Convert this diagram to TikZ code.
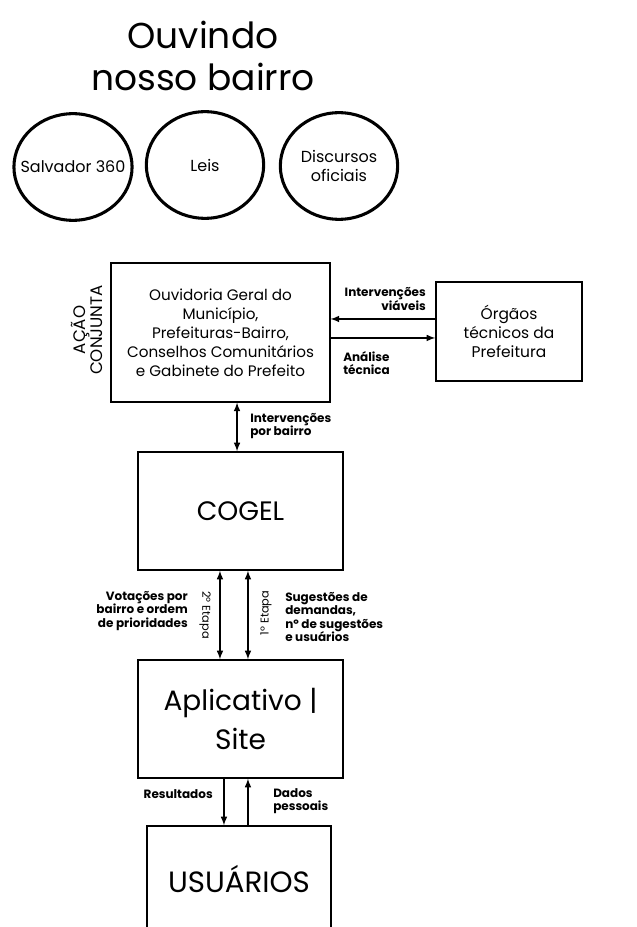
\documentclass[tikz,border=0pt]{standalone}
\usepackage{fontspec}
\setmainfont{Poppins}
\usetikzlibrary{arrows,positioning,shapes.geometric}
\tikzstyle{caixa}=[draw,rectangle,line width=1.1pt,align=center,inner sep=0pt]
\tikzstyle{bola}=[draw,ellipse,line width=2.3pt,minimum width=88pt,minimum height=80pt,align=center,inner xsep=-8pt,inner ysep=0pt,font=\fontsize{12}{14}\selectfont]
\tikzstyle{rotulo}=[font=\fontsize{9}{10}\selectfont\bfseries,inner sep=0pt]
\tikzstyle{etapa}=[font=\fontsize{8.5}{9}\selectfont,inner sep=0pt]
\begin{document}
\begin{tikzpicture}
  [x=0.75pt,y=-0.75pt,>=latex]
\useasboundingbox (0,0) rectangle (636,927);
\clip (0,0) rectangle (636,927);
\node[align=center,font=\fontsize{27}{32}\selectfont] (titulo) at (203,56) {Ouvindo\\nosso bairro};
\node[bola] (s360) at (73,167) {Salvador 360};
\node[bola] (leis) at (205,165) {Leis};
\node[bola] (disc) at (339,166) {Discursos\\oficiais};
\node[caixa,minimum width=164pt,minimum height=104pt,font=\fontsize{11.4}{14.3}\selectfont] (ouv) at (220.5,332.5)
  {Ouvidoria Geral do\\Município,\\Prefeituras-Bairro,\\Conselhos Comunitários\\e Gabinete do Prefeito};
\node[rotate=90,align=center,font=\fontsize{12.5}{12.5}\selectfont,inner sep=0pt] (acao) at (87,330) {AÇÃO\\CONJUNTA};
\node[caixa,minimum width=109.5pt,minimum height=74pt,font=\fontsize{11.6}{14.3}\selectfont] (orgaos) at (509,331.5)
  {Órgãos\\técnicos da\\Prefeitura};
\node[caixa,minimum width=154pt,minimum height=88.5pt,font=\fontsize{20}{24}\selectfont] (cogel) at (240.5,511) {COGEL};
\node[caixa,minimum width=154pt,minimum height=88.5pt,font=\fontsize{21}{29}\selectfont] (app) at (240.5,719) {Aplicativo |\\Site};
\node[caixa,minimum width=138pt,minimum height=79.5pt,font=\fontsize{22}{24}\selectfont] (usu) at (239,879) {USUÁRIOS};
% rotulos das setas
\node[rotulo,anchor=east,align=right] (viaveis) at (426,299) {Intervenções\\viáveis};
\node[rotulo,anchor=west,align=left] (analise) at (343,363) {Análise\\técnica};
\node[rotulo,anchor=west,align=left] (porbairro) at (250,426) {Intervenções\\por bairro};
\node[rotulo,anchor=east,align=right] (votacoes) at (188,611) {Votações por\\bairro e ordem\\de prioridades};
\node[rotulo,anchor=west,align=left] (sugestoes) at (285,617) {Sugestões de\\demandas,\\nº de sugestões\\e usuários};
\node[etapa,rotate=-90] (etapa2) at (205,615) {2º Etapa};
\node[etapa,rotate=90] (etapa1) at (266,613) {1º Etapa};
\node[rotulo,anchor=east] (result) at (213,794) {Resultados};
\node[rotulo,anchor=west,align=left] (dados) at (273,801) {Dados\\pessoais};
\path[->,line width=1.2pt]
([yshift=9.4pt]orgaos.west) edge ([yshift=9.4pt]orgaos.west -| ouv.east)
([yshift=-4.1pt]ouv.east) edge ([yshift=-4.1pt]ouv.east -| orgaos.west)
([xshift=-2.6pt]cogel.north) edge[<->] ([xshift=-2.6pt]cogel.north |- ouv.south)
([xshift=-15.4pt]cogel.south) edge[<->] ([xshift=-15.4pt]app.north)
([xshift=5.6pt]cogel.south) edge[<->] ([xshift=5.6pt]app.north)
([xshift=-12.4pt]app.south) edge ([xshift=-12.4pt]app.south |- usu.north)
([xshift=5.6pt]app.south |- usu.north) edge ([xshift=5.6pt]app.south);
\end{tikzpicture}
\end{document}
